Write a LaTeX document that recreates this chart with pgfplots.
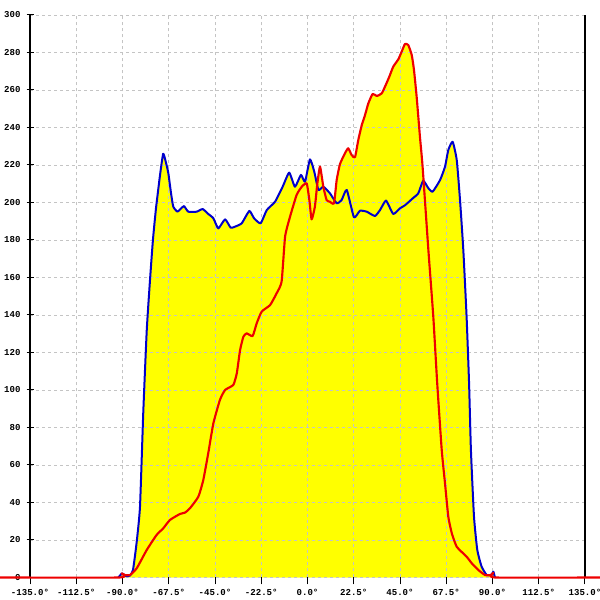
\documentclass[border=0pt]{standalone}
\usepackage{pgfplots}
\pgfplotsset{compat=1.18}
\usepackage{pgfplotstable}
\usepackage{fontspec}
\setmonofont{Liberation Mono}
\definecolor{cblue}{HTML}{0000CC}
\definecolor{cred}{HTML}{EE0000}
\definecolor{cyel}{HTML}{FFFF00}
\definecolor{cgrid}{HTML}{C4C4C4}

\pgfplotstableread{
x y
-92.0 0
-90.2 2.2
-88.5 0.8
-86.4 1
-84.9 4
-83.2 18
-81.5 37.6
-79.9 88
-78.2 132
-76.6 159
-75.2 180
-73.7 197
-71.7 215
-70.2 226
-68.8 221
-67.7 215.6
-66.4 205
-65.3 197.8
-63.3 195.1
-61.8 196.5
-60.1 198.1
-58.0 195.1
-53.9 195.1
-51.0 196.5
-48.3 193.9
-45.8 191.6
-43.4 186.2
-40.1 191
-37.4 186.6
-35.3 187.1
-32.0 188.9
-28.3 195.5
-26.0 191.6
-22.8 188.9
-19.8 196
-15.8 200.4
-12.1 208.4
-8.9 215.9
-6.1 208.4
-3.2 214.7
-1.2 211.1
1.2 223
3.3 216.4
5.3 206.7
7.7 208.4
10.9 204.9
14.2 199.6
16.6 201.3
19.1 206.7
22.6 192.1
25.5 195.6
28.8 195.1
32.8 192.8
35.3 196
38.2 201
41.7 193.9
45.0 196.9
47.4 198.5
51.2 202.2
53.9 204.9
56.3 211.6
58.8 207.6
60.9 205.8
64.5 212
66.9 219.1
68.5 228
70.6 232.4
72.6 222.7
74.2 201.3
75.8 174.7
77.4 139
78.6 103.6
79.5 68
81.0 32.4
82.6 14.7
84.7 5.8
87.2 1.3
89.6 1.5
90.4 3.1
91.2 0
}\bluedata

\pgfplotstableread{
x y
-149.6 0
-91.5 0
-90.4 2.2
-88.8 1.3
-86.4 1.3
-83.1 4.9
-78.2 14.7
-73.4 22.7
-70.2 26.2
-66.9 30.7
-62.0 33.9
-59.6 34.6
-57.2 36.9
-53.1 43.1
-50.7 52
-48.3 66.2
-45.8 82.2
-42.6 94.7
-40.1 100
-36.1 102.7
-34.4 108.9
-32.8 121.3
-31.2 128.4
-29.6 130.2
-26.7 128.8
-24.7 135.6
-22.3 141.8
-18.2 145.3
-15.0 151.6
-12.6 157.8
-10.9 181.8
-8.5 192.4
-5.3 204
-2.8 208.4
-0.4 210.2
0.9 201.3
2.0 191
3.6 197.8
4.8 210.2
6.1 219.1
7.7 208.4
9.3 201.3
10.9 200.4
12.9 199.6
14.2 212
15.8 220.5
18.2 226.2
19.8 228.9
21.5 225.3
23.1 224.1
24.7 233.3
26.4 241.3
28.0 246.7
29.6 252.9
31.7 257.9
33.7 256.8
36.1 258.2
37.7 261.8
39.8 267.1
41.7 272.4
44.2 276.4
45.8 280.4
47.4 284.5
49.0 284
50.7 278.7
51.8 270.7
53.1 256.4
54.7 235.1
56.0 219
58.8 174.7
61.2 139.1
63.1 103.6
65.3 68
66.9 50.2
68.5 32.4
70.2 23.6
72.6 16.4
77.4 11.1
79.9 7.6
83.1 4
86.4 1.3
89.6 1.3
90.4 2.5
91.2 0
142.3 0
}\reddata

\begin{document}
\begin{tikzpicture}
\begin{axis}[
  set layers,
  scale only axis,
  width=416.25pt, height=421.875pt,
  xmin=-135, xmax=135, ymin=0, ymax=300,
  clip=false,
  separate axis lines,
  x axis line style={draw=none},
  y axis line style={black, line width=1.2pt},
  xtick={-135,-112.5,...,135},
  xticklabels={-135.0°,-112.5°,-90.0°,-67.5°,-45.0°,-22.5°,0.0°,22.5°,45.0°,67.5°,90.0°,112.5°,135.0°},
  ytick={0,20,...,300},
  yticklabels={0,20,40,60,80,100,120,140,160,180,200,220,240,260,280,300},
  xtick pos=bottom, ytick pos=left,
  xtick align=outside, ytick align=center,
  major tick length=5.25pt,
  x tick style={black, line width=0.75pt},
  y tick style={black, line width=0.75pt},
  tick label style={font=\fontsize{6.8}{8}\selectfont\ttfamily\bfseries, text=black},
  yticklabel style={xshift=-1pt},
  grid=major,
  major grid style={cgrid, line width=0.6pt, dash pattern=on 2.25pt off 2.25pt},
]
\addplot[on layer=axis background, fill=cyel, draw=none, smooth, tension=0.3] table[x=x,y=y] {\bluedata} \closedcycle;
\addplot[on layer=axis background, fill=cyel, draw=none, smooth, tension=0.3] table[x=x,y=y] {\reddata} \closedcycle;
\addplot[cblue, line width=1.5pt, line join=round, smooth, tension=0.3] table[x=x,y=y] {\bluedata};
\addplot[cred, line width=1.6pt, line join=round, smooth, tension=0.3] table[x=x,y=y] {\reddata};
\coordinate (BL) at (axis cs:-149.6,-12);
\coordinate (TR) at (axis cs:142.3,308);
\end{axis}
\pgfresetboundingbox
\path[use as bounding box] (BL) rectangle (TR);
\end{tikzpicture}
\end{document}
